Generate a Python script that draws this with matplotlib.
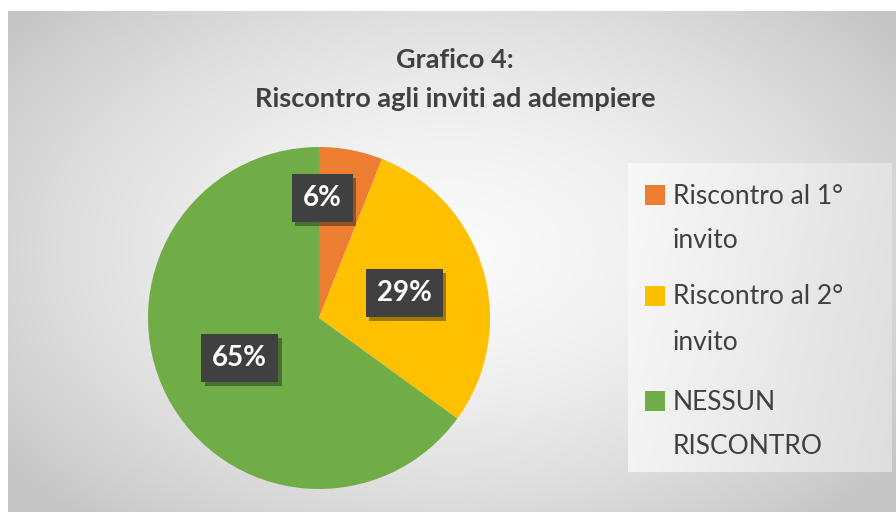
import numpy as np
import matplotlib.pyplot as plt
from matplotlib import patheffects as pe
from matplotlib.patches import Rectangle

categories = [["Riscontro al 1°", "invito"], ["Riscontro al 2°", "invito"], ["NESSUN", "RISCONTRO"]]
values = [6, 29, 65]
colors = ["#ED7D31", "#FFC000", "#70AD47"]
title_lines = ["Grafico 4:", "Riscontro agli inviti ad adempiere"]

plt.rcParams['font.family'] = ['Lato', 'DejaVu Sans']

W, H = 896, 512
fig = plt.figure(figsize=(W / 100, H / 100), dpi=100)

# background: white margin, grey radial gradient chart area
bg = fig.add_axes([0, 0, 1, 1])
bg.set_axis_off()
yy, xx = np.mgrid[0:H, 0:W]
r = np.sqrt(((xx - 450) / 520) ** 2 + ((yy - 250) / 330) ** 2)
g = np.clip(0.98 - 0.18 * r ** 1.6, 0.78, 1.0)
g[(xx < 8) | (yy < 11)] = 1.0
bg.imshow(np.dstack([g, g, g]), extent=[0, W, H, 0], aspect='auto')

# legend panel
lx0, ly0, lx1, ly1 = 628, 163, 892, 472
lg = np.linspace(0.975, 0.89, lx1 - lx0)[None, :] * np.ones((ly1 - ly0, 1))
lg = lg - np.linspace(0, 0.02, ly1 - ly0)[:, None]
bg.imshow(np.dstack([lg, lg, lg]), extent=[lx0, lx1, ly1, ly0], aspect='auto')
bg.set_xlim(0, W)
bg.set_ylim(H, 0)

# titles
for line, y in zip(title_lines, [60, 99]):
    fig.text(455 / W, 1 - y / H, line, ha='center', va='center',
             fontsize=19.5, fontweight='bold', color='#404040')

# pie
cx, cy, rad = 319, 318, 171
ax = fig.add_axes([(cx - rad) / W, (H - cy - rad) / H, 2 * rad / W, 2 * rad / H])
wedges, texts, autotexts = ax.pie(values, colors=colors, startangle=90, counterclock=False,
                                  autopct='%d%%', pctdistance=0.52, radius=1,
                                  textprops=dict(color='white', fontsize=20, fontweight='bold'))
ax.set_xlim(-1, 1)
ax.set_ylim(-1, 1)
ax.set_aspect('equal')

# first label is pushed up near the top like in the source
ang = np.deg2rad(88.5)
autotexts[0].set_position((0.70 * np.cos(ang), 0.70 * np.sin(ang)))
for t in autotexts:
    t.set_bbox(dict(boxstyle='square,pad=0.4', facecolor='#404040', edgecolor='none'))
    t.get_bbox_patch().set_path_effects([pe.SimplePatchShadow(offset=(2.5, -2.5), alpha=0.4),
                                         pe.Normal()])

# legend drawn by hand
entry_y = [196, 297, 402]
for lab, col, y in zip(categories, colors, entry_y):
    bg.add_patch(Rectangle((645, y - 11), 20, 20, facecolor=col, edgecolor='none'))
    for k, part in enumerate(lab):
        bg.text(673, y + 45 * k, part, ha='left', va='center', fontsize=19, color='#404040')

fig.savefig("out.png", dpi=100)
